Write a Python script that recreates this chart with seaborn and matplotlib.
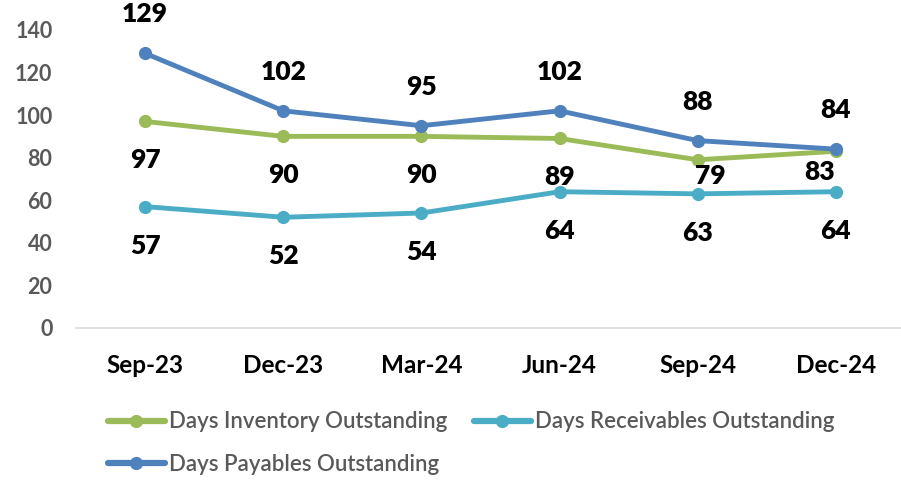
import matplotlib
matplotlib.use("Agg")
import matplotlib.pyplot as plt
import seaborn as sns
import pandas as pd

quarters = ["Sep-23", "Dec-23", "Mar-24", "Jun-24", "Sep-24", "Dec-24"]
dio = [97, 90, 90, 89, 79, 83]
dso = [57, 52, 54, 64, 63, 64]
dpo = [129, 102, 95, 102, 88, 84]
series_names = ["Days Inventory Outstanding", "Days Receivables Outstanding", "Days Payables Outstanding"]
colors = ["#9BBB59", "#4BACC6", "#4F81BD"]

sns.set_theme(style="white")
plt.rcParams['font.family'] = ['Lato', 'DejaVu Sans']

rows = []
for name, vals in zip(series_names, [dio, dso, dpo]):
    for i, (q, v) in enumerate(zip(quarters, vals)):
        rows.append({"x": i, "Quarter": q, "value": v, "series": name})
df = pd.DataFrame(rows)

fig = plt.figure(figsize=(9.01, 4.80), dpi=100)
ax = fig.add_axes([0.0844, 0.3167, 0.920, 0.621])

sns.lineplot(data=df, x="x", y="value", hue="series", hue_order=series_names,
             palette=colors, marker="o", markersize=9.5, markeredgewidth=0,
             linewidth=3.5, ax=ax, legend=True, sort=False)

ax.set_xlim(-0.5, 5.5)
ax.set_ylim(0, 140)
ax.set_yticks(range(0, 141, 20))
ax.set_xticks(range(len(quarters)))
ax.set_xticklabels(quarters)
ax.set_xlabel("")
ax.set_ylabel("")
for s in ["top", "right", "left"]:
    ax.spines[s].set_visible(False)
ax.spines["bottom"].set_color("#D9D9D9")
ax.spines["bottom"].set_linewidth(1.2)
ax.tick_params(axis="both", length=0)
ax.tick_params(axis="y", pad=17, labelsize=15.5, labelcolor="#595959")
ax.tick_params(axis="x", pad=19, labelsize=17.5, labelcolor="#000000")
for lab in ax.get_xticklabels() + ax.get_yticklabels():
    lab.set_fontweight("bold")

lab_kw = dict(fontsize=19, fontweight="heavy", color="black", ha="center", va="center", clip_on=False)
# payables above
for i, v in enumerate(dpo):
    ax.annotate(str(v), (i, v), xytext=(0, 28), textcoords="offset points", **lab_kw)
# inventory below
inv_off = [(0, -28), (0, -28), (0, -28), (0, -28), (9, -12), (-11.5, -15)]
for i, v in enumerate(dio):
    ax.annotate(str(v), (i, v), xytext=inv_off[i], textcoords="offset points", **lab_kw)
# receivables below
for i, v in enumerate(dso):
    ax.annotate(str(v), (i, v), xytext=(0, -28), textcoords="offset points", **lab_kw)

handles, labels = ax.get_legend_handles_labels()
order = [0, 2, 1]
leg = ax.legend([handles[k] for k in order], [labels[k] for k in order],
                ncol=2, loc="upper left", bbox_to_anchor=(0.038, -0.28),
                frameon=False, prop={"size": 16, "weight": "semibold"},
                handlelength=2.6, handletextpad=0.15,
                columnspacing=1.2, labelspacing=0.95, borderaxespad=0, borderpad=0)
for t in leg.get_texts():
    t.set_color("#595959")
for h in leg.legend_handles:
    h.set_linewidth(4.5)

fig.savefig("out.png", dpi=100)
